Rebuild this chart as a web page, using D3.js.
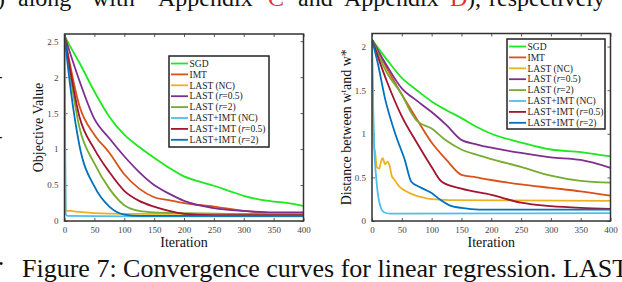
<!DOCTYPE html>
<html>
<head>
<meta charset="utf-8">
<script src="https://cdn.jsdelivr.net/npm/d3@7"></script>
<style>
  body { margin: 0; background: #fff; }
  svg { display: block; font-family: "Liberation Serif", "Times New Roman", serif; }
</style>
</head>
<body>
<svg id="fig" width="622" height="282"></svg>
<script>
// legend names and colours (matlab default order, SGD in bright green)
const series_names = ['SGD', 'IMT', 'LAST (NC)', 'LAST (r=0.5)', 'LAST (r=2)', 'LAST+IMT (NC)', 'LAST+IMT (r=0.5)', 'LAST+IMT (r=2)'];
const series_colors = ['#1ee81e', '#d95319', '#edb120', '#7e2f8e', '#77ac30', '#4dbeee', '#a2142f', '#0072bd'];

const x_ticks = [0, 50, 100, 150, 200, 250, 300, 350, 400];
const left_y_ticks = [0, 0.5, 1, 1.5, 2, 2.5];
const right_y_ticks = [0, 0.5, 1, 1.5, 2];

// left panel: objective value, [iteration, value]
const obj_sgd = [[0,2.58],[10,2.42],[25,2.2],[50,1.8],[75,1.45],[100,1.2],[125,1.03],[150,0.88],[175,0.74],[200,0.62],[225,0.55],[250,0.49],[275,0.42],[300,0.35],[325,0.3],[350,0.27],[375,0.25],[400,0.21]];
const obj_imt = [[0,2.58],[25,1.6],[50,1.2],[75,0.95],[100,0.65],[125,0.45],[150,0.33],[175,0.29],[200,0.25],[250,0.2],[300,0.14],[350,0.11],[400,0.1]];
const obj_last_nc = [[0,2.58],[2,0.14],[10,0.14],[20,0.13],[50,0.11],[100,0.1],[400,0.1]];
const obj_last_05 = [[0,2.58],[25,1.95],[50,1.42],[75,1.15],[100,0.9],[125,0.68],[150,0.5],[175,0.38],[200,0.28],[250,0.18],[300,0.14],[350,0.12],[400,0.12]];
const obj_last_2 = [[0,2.58],[25,1.3],[50,0.8],[75,0.45],[100,0.22],[125,0.14],[150,0.12],[200,0.11],[300,0.1],[400,0.1]];
const obj_li_nc = [[0,2.58],[2,0.1],[5,0.07],[100,0.065],[400,0.065]];
const obj_li_05 = [[0,2.58],[25,1.45],[50,1.0],[75,0.68],[100,0.42],[125,0.28],[150,0.2],[175,0.14],[200,0.1],[250,0.08],[300,0.08],[400,0.08]];
const obj_li_2 = [[0,2.58],[10,1.85],[25,1.05],[50,0.48],[75,0.2],[100,0.09],[125,0.07],[400,0.07]];

// right panel: distance between w^t and w*
const dist_sgd = [[0,2.08],[25,1.85],[50,1.64],[75,1.5],[100,1.37],[125,1.27],[150,1.18],[175,1.08],[200,1.0],[250,0.9],[300,0.82],[350,0.79],[400,0.74]];
const dist_imt = [[0,2.08],[25,1.75],[50,1.45],[75,1.17],[100,0.9],[125,0.7],[150,0.53],[175,0.5],[200,0.47],[250,0.42],[300,0.38],[350,0.34],[400,0.29]];
const dist_last_nc = [[0,2.08],[3,0.85],[5,0.8],[8,0.62],[12,0.6],[15,0.68],[18,0.72],[22,0.65],[26,0.68],[30,0.62],[33,0.52],[38,0.47],[45,0.4],[55,0.35],[70,0.3],[85,0.27],[100,0.25],[130,0.24],[400,0.23]];
const dist_last_05 = [[0,2.08],[25,1.78],[50,1.52],[75,1.38],[100,1.25],[125,1.1],[150,0.93],[175,0.88],[200,0.84],[250,0.78],[300,0.73],[350,0.7],[400,0.61]];
const dist_last_2 = [[0,2.08],[25,1.7],[50,1.45],[65,1.25],[75,1.15],[100,1.06],[125,0.92],[150,0.82],[175,0.76],[200,0.71],[250,0.62],[300,0.52],[350,0.46],[400,0.44]];
const dist_li_nc = [[0,2.08],[2,1.3],[4,0.8],[7,0.5],[10,0.3],[15,0.15],[20,0.1],[30,0.085],[400,0.09]];
const dist_li_05 = [[0,2.08],[25,1.6],[50,1.2],[75,0.9],[100,0.62],[117,0.45],[150,0.37],[200,0.3],[250,0.21],[300,0.17],[350,0.15],[400,0.14]];
const dist_li_2 = [[0,2.08],[10,1.8],[22,1.4],[40,0.98],[55,0.7],[66,0.45],[80,0.39],[100,0.32],[115,0.24],[130,0.18],[150,0.15],[180,0.13],[400,0.13]];

const left_series = [obj_sgd, obj_imt, obj_last_nc, obj_last_05, obj_last_2, obj_li_nc, obj_li_05, obj_li_2];
const right_series = [dist_sgd, dist_imt, dist_last_nc, dist_last_05, dist_last_2, dist_li_nc, dist_li_05, dist_li_2];

// words of the cut-off line above the figure (justified text, so each word placed)
const top_words = [')', 'along', 'with', 'Appendix', 'C', 'and', 'Appendix', 'D', '),', 'respectively'];
const top_word_x = [-3, 18, 92, 158, 268, 298, 344, 450, 467, 489];
const top_word_red = ['C', 'D'];

const svg = d3.select('#fig');

const top_line = svg.append('text')
	.attr('y', 6)
	.attr('font-size', 24)
	.attr('fill', '#111');
top_words.forEach(function (w, i){
	top_line.append('tspan')
		.attr('x', top_word_x[i])
		.attr('fill', top_word_red.includes(w) ? '#e03030' : '#111')
		.text(w);
});

svg.append('text').attr('x', -3).attr('y', 82).attr('font-size', 16).text('-');
svg.append('text').attr('x', -3).attr('y', 142).attr('font-size', 16).text('-');
svg.append('text').attr('x', -1).attr('y', 268).attr('font-size', 12).text('•');

svg.append('text')
	.attr('x', 22).attr('y', 277)
	.attr('font-size', 26)
	.attr('fill', '#111')
	.text('Figure 7: Convergence curves for linear regression. LAST');

function make_panel(id, box, y_max, y_ticks, data, legend_pos, y_label){
	const x = d3.scaleLinear().domain([0, 400]).range([box.left, box.right]);
	const y = d3.scaleLinear().domain([0, y_max]).range([box.bottom, box.top]);

	const g = svg.append('g');

	g.append('rect')
		.attr('x', box.left).attr('y', box.top)
		.attr('width', box.right - box.left).attr('height', box.bottom - box.top)
		.attr('fill', '#fff');

	g.append('clipPath').attr('id', 'clip_' + id)
		.append('rect')
		.attr('x', box.left).attr('y', box.top)
		.attr('width', box.right - box.left).attr('height', box.bottom - box.top);

	// ticks inside on all four sides, matlab style
	const tick_len = 3;
	const bottom = g.append('g').attr('transform', 'translate(0,' + box.bottom + ')')
		.call(d3.axisBottom(x).tickValues(x_ticks).tickSize(-tick_len).tickPadding(6));
	const top = g.append('g').attr('transform', 'translate(0,' + box.top + ')')
		.call(d3.axisTop(x).tickValues(x_ticks).tickSize(-tick_len).tickFormat(''));
	const left = g.append('g').attr('transform', 'translate(' + box.left + ',0)')
		.call(d3.axisLeft(y).tickValues(y_ticks).tickSize(-tick_len).tickPadding(6).tickFormat(d3.format('')));
	const right = g.append('g').attr('transform', 'translate(' + box.right + ',0)')
		.call(d3.axisRight(y).tickValues(y_ticks).tickSize(-tick_len).tickFormat(''));
	[bottom, top, left, right].forEach(a => {
		a.attr('font-family', '"Liberation Serif", serif');
		a.select('.domain').remove();
		a.selectAll('line').attr('stroke', '#333').attr('stroke-width', 0.8);
		a.selectAll('text')
			.attr('font-size', 9)
			.attr('fill', '#444');
	});

	const line = d3.line()
		.x(d => x(d[0]))
		.y(d => y(d[1]))
		.curve(d3.curveMonotoneX);

	g.append('g').attr('clip-path', 'url(#clip_' + id + ')')
		.selectAll('path')
		.data(data)
		.join('path')
		.attr('d', line)
		.attr('fill', 'none')
		.attr('stroke', (d, i) => series_colors[i])
		.attr('stroke-width', 1.8)
		.attr('stroke-linejoin', 'round');

	// axes box
	g.append('rect')
		.attr('x', box.left).attr('y', box.top)
		.attr('width', box.right - box.left).attr('height', box.bottom - box.top)
		.attr('fill', 'none')
		.attr('stroke', '#333')
		.attr('stroke-width', 1.5);

	// legend
	const leg = g.append('g');
	leg.append('rect')
		.attr('x', legend_pos.x).attr('y', legend_pos.y)
		.attr('width', legend_pos.w).attr('height', legend_pos.h)
		.attr('fill', '#fff')
		.attr('stroke', '#222')
		.attr('stroke-width', 1.5);
	series_names.forEach(function (name, i){
		const yy = legend_pos.y + 7.5 + i * 10.9;
		leg.append('line')
			.attr('x1', legend_pos.x + 2).attr('x2', legend_pos.x + 19)
			.attr('y1', yy).attr('y2', yy)
			.attr('stroke', series_colors[i])
			.attr('stroke-width', 1.8);
		const t = leg.append('text')
			.attr('x', legend_pos.x + 20.5).attr('y', yy + 3.2)
			.attr('font-size', 9.5)
			.attr('fill', '#222');
		const m = name.match(/^(.*\()r(=.*)$/);
		if (m){
			t.append('tspan').text(m[1]);
			t.append('tspan').attr('font-style', 'italic').text('r');
			t.append('tspan').text(m[2]);
		}
		else {
			t.text(name);
		}
	});

	g.append('text')
		.attr('x', (box.left + box.right) / 2).attr('y', 247)
		.attr('text-anchor', 'middle')
		.attr('font-size', 14)
		.attr('fill', '#111')
		.text('Iteration');

	const yl = g.append('text')
		.attr('transform', 'translate(' + y_label.x + ',' + ((box.top + box.bottom) / 2) + ') rotate(-90)')
		.attr('text-anchor', 'middle')
		.attr('font-size', 14)
		.attr('fill', '#111');
	y_label.parts.forEach(p => {
		const s = yl.append('tspan').text(p.t);
		if (p.sup) s.attr('font-size', 9).attr('dy', -5);
		if (p.down) s.attr('dy', 5);
	});
}

make_panel('obj', {left: 64.5, right: 303.5, top: 34, bottom: 221}, 2.6, left_y_ticks, left_series,
	{x: 169, y: 56, w: 100, h: 91},
	{x: 43, parts: [{t: 'Objective Value'}]});

make_panel('dist', {left: 372, right: 610.5, top: 33.5, bottom: 221}, 2.15, right_y_ticks, right_series,
	{x: 507, y: 39, w: 98, h: 90},
	{x: 351, parts: [{t: 'Distance between w'}, {t: 't', sup: true}, {t: 'and w*', down: true}]});
</script>
</body>
</html>
